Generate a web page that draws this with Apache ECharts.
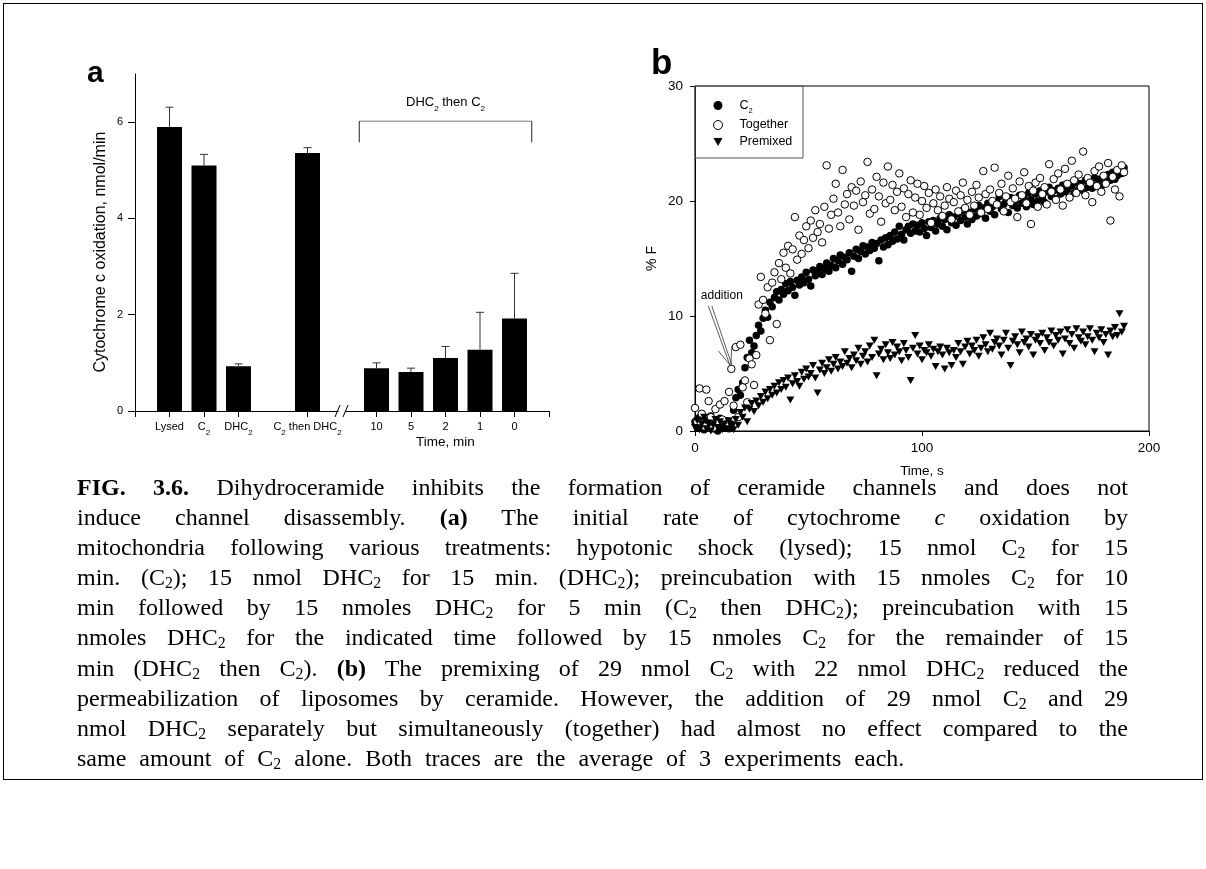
<!DOCTYPE html>
<html><head><meta charset="utf-8">
<script src="https://cdn.jsdelivr.net/npm/echarts@6/dist/echarts.min.js"></script>
<style>
html,body{margin:0;padding:0;background:#fff;}
#chart{position:absolute;left:0;top:0;width:1206px;height:869px;}
#frame{position:absolute;left:3px;top:3px;width:1200px;height:777px;border:1px solid #000;box-sizing:border-box;pointer-events:none;}
#caption{position:absolute;left:77px;width:1051px;top:472px;font-family:"Liberation Serif","Times New Roman",serif;font-size:24px;line-height:30.1px;color:#000;}
#caption div{text-align:justify;text-align-last:justify;height:30.1px;}
#caption div.last{text-align:left;text-align-last:left;word-spacing:7px;}
#caption sub{font-size:0.66em;vertical-align:-0.22em;line-height:0;}
</style></head>
<body>
<div id="chart"></div>
<div id="frame"></div>
<div id="caption">
<div><b>FIG. 3.6.</b> Dihydroceramide inhibits the formation of ceramide channels and does not</div>
<div>induce channel disassembly. <b>(a)</b> The initial rate of cytochrome <i>c</i> oxidation by</div>
<div>mitochondria following various treatments: hypotonic shock (lysed); 15 nmol C<sub>2</sub> for 15</div>
<div>min. (C<sub>2</sub>); 15 nmol DHC<sub>2</sub> for 15 min. (DHC<sub>2</sub>); preincubation with 15 nmoles C<sub>2</sub> for 10</div>
<div>min followed by 15 nmoles DHC<sub>2</sub> for 5 min (C<sub>2</sub> then DHC<sub>2</sub>); preincubation with 15</div>
<div>nmoles DHC<sub>2</sub> for the indicated time followed by 15 nmoles C<sub>2</sub> for the remainder of 15</div>
<div>min (DHC<sub>2</sub> then C<sub>2</sub>). <b>(b)</b> The premixing of 29 nmol C<sub>2</sub> with 22 nmol DHC<sub>2</sub> reduced the</div>
<div>permeabilization of liposomes by ceramide. However, the addition of 29 nmol C<sub>2</sub> and 29</div>
<div>nmol DHC<sub>2</sub> separately but simultaneously (together) had almost no effect compared to the</div>
<div class="last">same amount of C<sub>2</sub> alone. Both traces are the average of 3 experiments each.</div>
</div>
<script>
// ---------- Panel a data ----------
const barNames = ['Lysed', 'C2', 'DHC2', 'C2 then DHC2', '10', '5', '2', '1', '0'];
const barSlot  = [0, 1, 2, 4, 6, 7, 8, 9, 10];
const barMean  = [5.90, 5.10, 0.93, 5.36, 0.89, 0.81, 1.10, 1.27, 1.92];
const barErr   = [0.41, 0.23, 0.05, 0.11, 0.11, 0.08, 0.24, 0.78, 0.94];
const yTicksA  = [0, 2, 4, 6];

// ---------- Panel b data ----------
const timeS = [
  0,1,2,3,4,5,6,7,8,9,
  10,11,12,13,14,15,16,17,18,19,
  20,21,22,23,24,25,26,27,28,29,
  30,31,32,33,34,35,36,37,38,39,
  40,41,42,43,44,45,46,47,48,49,
  50,51,52,53,54,55,56,57,58,59,
  60,61,62,63,64,65,66,67,68,69,
  70,71,72,73,74,75,76,77,78,79,
  80,81,82,83,84,85,86,87,88,89,
  90,91,92,93,94,95,96,97,98,99,
  100,101,102,103,104,105,106,107,108,109,
  110,111,112,113,114,115,116,117,118,119,
  120,121,122,123,124,125,126,127,128,129,
  130,131,132,133,134,135,136,137,138,139,
  140,141,142,143,144,145,146,147,148,149,
  150,151,152,153,154,155,156,157,158,159,
  160,161,162,163,164,165,166,167,168,169,
  170,171,172,173,174,175,176,177,178,179,
  180,181,182,183,184,185,186,187,188,189
];
const c2Pct = [
  0.8,0.3,1.2,0.5,0.1,0.9,0.4,1.3,0.2,0.7,
  0.0,1.1,0.5,0.3,0.9,0.2,0.6,1.8,2.9,3.6,
  3.1,4.2,5.5,6.4,7.9,6.8,7.4,8.3,9.2,8.7,
  9.8,10.5,9.9,11.2,10.8,11.6,12.1,11.4,12.3,11.9,
  12.8,12.2,13.0,12.5,11.8,13.1,12.7,13.4,12.9,13.8,
  13.2,12.6,14.0,13.5,13.9,14.3,13.6,14.1,14.6,13.9,
  14.4,15.0,14.2,14.8,15.3,14.5,15.1,14.9,15.5,13.9,
  15.2,15.8,15.0,15.6,16.1,15.4,16.0,15.7,16.4,15.9,
  16.3,14.8,16.6,16.0,16.8,16.2,17.0,16.5,17.3,16.7,
  17.8,17.1,16.6,17.5,17.8,17.2,18.0,17.4,17.9,17.3,
  18.1,17.6,17.0,18.2,17.7,18.3,17.4,18.0,18.5,17.8,
  18.4,17.5,18.8,18.1,18.6,17.9,18.9,18.3,19.2,18.6,
  18.0,19.0,18.4,19.3,18.7,19.6,18.9,19.4,18.5,19.8,
  19.1,19.5,18.8,19.9,20.4,19.3,19.7,20.1,19.0,20.3,
  19.6,20.0,19.4,20.5,19.8,20.2,19.5,20.7,20.1,19.7,
  20.6,20.0,20.9,20.3,19.9,20.8,21.2,20.4,20.9,20.2,
  21.1,20.6,21.4,20.8,21.0,20.3,21.3,20.7,21.6,21.0,
  21.5,20.9,21.8,21.2,21.7,21.1,22.0,21.4,21.9,21.3,
  22.1,21.6,22.3,21.8,22.5,21.9,22.2,22.7,22.4,22.9
];
const togetherPct = [
  2.0,0.8,3.7,1.5,0.4,3.6,2.6,1.2,0.3,1.9,
  0.7,2.3,1.0,2.6,0.5,3.4,5.4,2.2,7.3,1.2,
  7.5,3.8,4.4,2.5,6.3,5.8,4.0,6.6,11.0,13.4,
  11.4,10.2,12.5,7.9,12.9,13.8,9.3,14.6,13.2,15.5,
  14.2,16.1,13.7,15.8,18.6,14.9,17.0,15.4,16.6,17.8,
  15.9,18.3,16.8,19.2,17.3,18.0,16.4,19.5,23.1,17.6,
  18.8,20.2,21.5,19.0,17.8,22.7,19.7,20.6,18.4,21.2,
  19.6,20.9,17.5,21.7,19.9,20.5,23.4,18.9,21.0,19.3,
  22.1,20.4,18.2,21.6,19.8,23.0,20.1,21.4,19.2,20.8,
  22.4,19.5,21.1,18.6,20.6,21.8,19.0,20.3,21.5,18.8,
  20.0,21.3,19.4,20.7,18.1,19.8,21.0,19.2,20.4,18.7,
  19.6,21.2,20.2,18.4,19.9,20.9,19.1,20.5,21.6,19.4,
  20.1,18.8,20.8,19.6,21.4,20.3,19.0,22.6,20.6,19.3,
  21.0,20.0,22.9,19.7,20.7,21.5,19.1,20.4,22.2,19.9,
  21.1,20.2,18.6,21.7,20.5,22.5,19.8,21.3,18.0,20.9,
  21.6,19.5,22.0,20.6,21.2,19.7,23.2,20.8,21.9,20.1,
  22.4,21.0,19.6,22.8,21.5,20.3,23.5,21.8,20.7,22.3,
  21.2,24.3,20.5,22.0,21.6,19.9,22.6,21.3,23.0,20.8,
  22.2,21.5,23.3,18.3,22.1,21.0,22.7,20.4,23.1,22.5
];
const premixedPct = [
  0.3,0.9,0.1,0.6,1.2,0.2,0.7,0.0,0.5,1.0,
  0.3,0.8,0.1,0.6,0.2,0.9,0.4,0.1,1.0,0.5,
  1.6,1.2,2.0,0.8,1.9,2.4,1.7,2.6,2.2,3.0,
  2.5,3.4,2.8,3.6,3.1,3.9,3.3,4.2,3.6,4.4,
  3.8,4.6,2.7,4.1,4.8,4.3,3.9,5.1,4.5,5.4,
  4.7,5.0,5.7,4.6,3.3,5.3,5.9,5.0,5.5,6.2,
  5.2,5.8,6.4,5.4,6.0,5.6,6.9,5.9,6.3,5.5,
  6.6,6.1,7.2,5.8,6.5,6.9,6.0,7.4,6.4,7.9,
  4.8,6.7,7.1,6.2,7.5,6.8,6.3,7.7,6.6,7.3,
  6.9,6.1,7.6,7.0,6.4,4.4,7.2,8.3,6.7,7.4,
  6.2,7.0,6.8,7.5,6.5,7.1,5.6,6.9,7.3,6.6,
  5.4,7.2,6.8,5.7,7.0,6.4,7.6,6.9,5.8,7.3,
  7.8,6.7,7.4,7.0,7.9,6.5,7.2,8.1,7.5,6.9,
  8.5,7.1,7.7,8.0,7.4,6.6,7.9,8.5,7.2,5.7,
  7.8,8.2,7.5,6.8,8.6,7.7,8.0,7.3,8.4,6.6,
  7.9,8.2,7.6,8.5,7.0,8.1,7.7,8.7,7.4,8.3,
  7.9,8.6,6.7,8.0,8.8,7.6,8.4,7.2,8.9,8.1,
  7.8,8.6,7.5,8.2,8.9,7.9,6.9,8.5,8.1,8.8,
  7.7,8.4,6.6,8.7,8.2,9.0,8.3,10.2,8.6,9.1
];
const xTicksB = [0, 100, 200];
const yTicksB = [0, 10, 20, 30];
const seriesNames = ['C2', 'Together', 'Premixed'];
const additionPoint = [16, 5.4];

// ---------- chart ----------
const FONT = '"Liberation Sans", Arial, Helvetica, sans-serif';
const subRich = { s: { fontSize: 8, verticalAlign: 'bottom', lineHeight: 14, padding: [0, 0, -3, 0] } };
const sub = t => t.replace(/C2/g, 'C{s|2}');
const DOWN_TRI = 'path://M0,0L10,0L5,9Z';

const chart = echarts.init(document.getElementById('chart'), null, { renderer: 'canvas' });

const option = {
  animation: false,
  backgroundColor: '#fff',
  textStyle: { fontFamily: FONT, color: '#000' },
  grid: [
    { left: 135, top: 74, right: 657, bottom: 458, containLabel: false },
    { left: 695, top: 86, right: 57, bottom: 438, show: true, borderColor: '#000', borderWidth: 1, backgroundColor: 'transparent', containLabel: false }
  ],
  xAxis: [
    {
      type: 'value', gridIndex: 0, min: -1, max: 11, interval: 1,
      axisLine: { show: true, onZero: false, lineStyle: { color: '#000', width: 1 } },
      axisTick: { show: true, inside: false, length: 6, lineStyle: { color: '#000' }, customValues: [-1, 0, 1, 2, 4, 6, 7, 8, 9, 10, 11] },
      axisLabel: {
        show: true, margin: 9, fontSize: 11, color: '#000', fontFamily: FONT, lineHeight: 14,
        customValues: barSlot,
        formatter: v => { const i = barSlot.indexOf(v); return i < 0 ? '' : sub(barNames[i]); },
        rich: subRich
      },
      splitLine: { show: false }
    },
    {
      type: 'value', gridIndex: 1, min: 0, max: 200, interval: 100,
      axisLine: { show: true, onZero: false, lineStyle: { color: '#000', width: 1 } },
      axisTick: { show: true, inside: false, length: 5, lineStyle: { color: '#000' }, customValues: xTicksB },
      axisLabel: { show: true, margin: 10, fontSize: 13.5, color: '#000', fontFamily: FONT, customValues: xTicksB },
      splitLine: { show: false },
      name: 'Time, s', nameLocation: 'middle', nameGap: 33,
      nameTextStyle: { fontSize: 13.5, color: '#000', fontFamily: FONT }
    }
  ],
  yAxis: [
    {
      type: 'value', gridIndex: 0, min: 0, max: 7, interval: 1,
      axisLine: { show: true, onZero: false, lineStyle: { color: '#000', width: 1 } },
      axisTick: { show: true, inside: false, length: 7, lineStyle: { color: '#000' }, customValues: yTicksA },
      axisLabel: { show: true, margin: 12, fontSize: 11, color: '#000', fontFamily: FONT, customValues: yTicksA },
      splitLine: { show: false }
    },
    {
      type: 'value', gridIndex: 1, min: 0, max: 30, interval: 10,
      axisLine: { show: true, onZero: false, lineStyle: { color: '#000', width: 1 } },
      axisTick: { show: true, inside: false, length: 5, lineStyle: { color: '#000' }, customValues: yTicksB },
      axisLabel: { show: true, margin: 12, fontSize: 13.5, color: '#000', fontFamily: FONT, customValues: yTicksB },
      splitLine: { show: false },
      name: '% F', nameLocation: 'middle', nameGap: 36, nameRotate: 90,
      nameTextStyle: { fontSize: 14, color: '#000', fontFamily: FONT }
    }
  ],
  legend: {
    show: true, orient: 'vertical', left: 708, top: 94, padding: 5,
    itemWidth: 9, itemHeight: 9, itemGap: 4, selectedMode: false,
    data: [
      { name: 'C2', icon: 'circle' },
      { name: 'Together', icon: 'circle', itemStyle: { color: '#fff', borderColor: '#000', borderWidth: 1 } },
      { name: 'Premixed', icon: DOWN_TRI }
    ],
    formatter: n => n === 'C2' ? '{t|C}{s|2}' : '{t|' + n + '}',
    textStyle: {
      fontFamily: FONT, fontSize: 12.5, color: '#000', lineHeight: 12,
      rich: {
        t: { fontSize: 12.5, padding: [0, 0, 0, 12], lineHeight: 12 },
        s: { fontSize: 7.5, verticalAlign: 'bottom', lineHeight: 12, padding: [0, 0, -3, 0] }
      }
    }
  },
  series: [
    {
      type: 'bar', name: 'bars', xAxisIndex: 0, yAxisIndex: 0, barWidth: 25, silent: true,
      itemStyle: { color: '#000' },
      data: barSlot.map((s, i) => [s, barMean[i]])
    },
    {
      type: 'custom', name: 'err', xAxisIndex: 0, yAxisIndex: 0, silent: true, z: 5,
      encode: { x: 0, y: 1 },
      data: barSlot.map((s, i) => [s, barMean[i], barErr[i]]),
      renderItem: (params, api) => {
        const x = api.value(0), m = api.value(1), e = api.value(2);
        const p0 = api.coord([x, m]);
        const p1 = api.coord([x, m + e]);
        const st = { stroke: '#333', lineWidth: 1 };
        return {
          type: 'group', children: [
            { type: 'line', shape: { x1: p0[0], y1: p0[1], x2: p1[0], y2: p1[1] }, style: st },
            { type: 'line', shape: { x1: p1[0] - 4, y1: p1[1], x2: p1[0] + 4, y2: p1[1] }, style: st }
          ]
        };
      }
    },
    {
      type: 'scatter', name: 'C2', xAxisIndex: 1, yAxisIndex: 1, symbol: 'circle', symbolSize: 7.5,
      itemStyle: { color: '#000', opacity: 1 }, silent: true,
      data: timeS.map((t, i) => [t, c2Pct[i]])
    },
    {
      type: 'scatter', name: 'Together', xAxisIndex: 1, yAxisIndex: 1, symbol: 'circle', symbolSize: 7.5,
      itemStyle: { color: '#fff', borderColor: '#000', borderWidth: 1, opacity: 1 }, silent: true,
      data: timeS.map((t, i) => [t, togetherPct[i]])
    },
    {
      type: 'scatter', name: 'Premixed', xAxisIndex: 1, yAxisIndex: 1, symbol: DOWN_TRI, symbolSize: [8, 7],
      itemStyle: { color: '#000', opacity: 1 }, silent: true,
      data: timeS.map((t, i) => [t, premixedPct[i]])
    }
  ]
};
chart.setOption(option);

// ---------- decorations (positions derived from the axes) ----------
const pa = v => chart.convertToPixel({ xAxisIndex: 0, yAxisIndex: 0 }, v);
const pb = v => chart.convertToPixel({ xAxisIndex: 1, yAxisIndex: 1 }, v);

const brk = pa([5, 0]);
const bL = pa([5.5, 6.02]), bR = pa([10.5, 6.02]), bD = pa([5.5, 5.58]);
const bT = pa([8, 6.4]);
const tm = pa([8, 0]);
const yTitle = pa([-1, 3.3]);
const ad = pb(additionPoint);
const lineSt = { stroke: '#333', lineWidth: 0.8 };

chart.setOption({
  graphic: [
    // axis break
    { type: 'rect', shape: { x: brk[0] - 3.5, y: brk[1] - 2, width: 7, height: 4 }, style: { fill: '#fff' }, z: 100 },
    { type: 'line', shape: { x1: brk[0] - 7, y1: brk[1] + 6, x2: brk[0] - 2, y2: brk[1] - 6 }, style: { stroke: '#000', lineWidth: 1 }, z: 101 },
    { type: 'line', shape: { x1: brk[0] + 1, y1: brk[1] + 6, x2: brk[0] + 6, y2: brk[1] - 6 }, style: { stroke: '#000', lineWidth: 1 }, z: 101 },
    // bracket
    { type: 'line', shape: { x1: bL[0], y1: bL[1], x2: bR[0], y2: bR[1] }, style: { stroke: '#777', lineWidth: 1 }, z: 100 },
    { type: 'line', shape: { x1: bL[0], y1: bL[1], x2: bL[0], y2: bD[1] }, style: { stroke: '#222', lineWidth: 1 }, z: 100 },
    { type: 'line', shape: { x1: bR[0], y1: bR[1], x2: bR[0], y2: bD[1] }, style: { stroke: '#222', lineWidth: 1 }, z: 100 },
    { type: 'text', x: bT[0], y: bT[1], z: 100, style: { text: 'DHC{s|2} then C{s|2}', fontFamily: FONT, fontSize: 13, fill: '#000', align: 'center', verticalAlign: 'middle',
        rich: { s: { fontSize: 8, verticalAlign: 'bottom', lineHeight: 14, padding: [0, 0, -3, 0] } } } },
    // axis titles of panel a
    { type: 'text', x: tm[0], y: tm[1] + 31, z: 100, style: { text: 'Time, min', fontFamily: FONT, fontSize: 13.5, fill: '#000', align: 'center', verticalAlign: 'middle' } },
    { type: 'text', x: yTitle[0] - 34, y: yTitle[1], rotation: Math.PI / 2, z: 100, style: { text: 'Cytochrome c oxidation, nmol/min', fontFamily: FONT, fontSize: 16, fill: '#000', align: 'center', verticalAlign: 'middle' } },
    // panel letters
    { type: 'text', x: 87, y: 73.5, z: 100, style: { text: 'a', fontFamily: FONT, fontWeight: 'bold', fontSize: 30, fill: '#000', align: 'left', verticalAlign: 'middle' } },
    { type: 'text', x: 651, y: 64, z: 100, style: { text: 'b', fontFamily: FONT, fontWeight: 'bold', fontSize: 35, fill: '#000', align: 'left', verticalAlign: 'middle' } },
    // legend box
    { type: 'rect', shape: { x: 695, y: 86, width: 108, height: 72 }, style: { fill: 'none', stroke: '#555', lineWidth: 1 }, z: 50 },
    // addition annotation
    { type: 'text', x: ad[0] - 9.5, y: ad[1] - 73, z: 100, style: { text: 'addition', fontFamily: FONT, fontSize: 12, fill: '#000', align: 'center', verticalAlign: 'middle' } },
    { type: 'line', shape: { x1: ad[0] - 23, y1: ad[1] - 63, x2: ad[0] - 1.5, y2: ad[1] - 4 }, style: lineSt, z: 100 },
    { type: 'line', shape: { x1: ad[0] - 19.5, y1: ad[1] - 63, x2: ad[0] + 0.5, y2: ad[1] - 4 }, style: lineSt, z: 100 },
    { type: 'line', shape: { x1: ad[0] - 13, y1: ad[1] - 18, x2: ad[0] - 0.5, y2: ad[1] - 3 }, style: lineSt, z: 100 },
    { type: 'line', shape: { x1: ad[0] + 0.5, y1: ad[1] - 23, x2: ad[0] - 0.5, y2: ad[1] - 3 }, style: lineSt, z: 100 }
  ]
});
</script>
</body></html>
